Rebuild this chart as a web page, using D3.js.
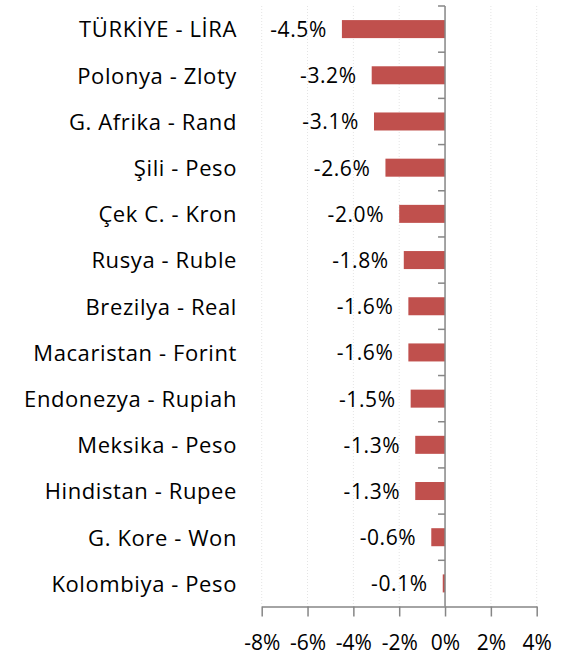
<!DOCTYPE html>
<html>
<head>
<meta charset="utf-8">
<script src="https://d3js.org/d3.v7.min.js" charset="utf-8"></script>
<style>
  body {margin:0;background:#fff;}
  text {font-family: "Open Sans", Lato, sans-serif; fill:#000; letter-spacing:0.6px;}
</style>
</head>
<body>
<div id="chart"></div>
<script>
const width = 567, height = 656;

const categories = ["TÜRKİYE - LİRA", "Polonya - Zloty", "G. Afrika - Rand", "Şili - Peso",
  "Çek C. - Kron", "Rusya - Ruble", "Brezilya - Real", "Macaristan - Forint",
  "Endonezya - Rupiah", "Meksika - Peso", "Hindistan - Rupee", "G. Kore - Won", "Kolombiya - Peso"];
const values = [-4.5, -3.2, -3.1, -2.6, -2.0, -1.8, -1.6, -1.6, -1.5, -1.3, -1.3, -0.6, -0.1];
const labels = ["-4.5%", "-3.2%", "-3.1%", "-2.6%", "-2.0%", "-1.8%", "-1.6%", "-1.6%", "-1.5%", "-1.3%", "-1.3%", "-0.6%", "-0.1%"];
const xTicks = [-8, -6, -4, -2, 0, 2, 4];

const x = d3.scaleLinear().domain([-8, 4]).range([261.7, 536.7]);
const y = d3.scaleBand().domain(categories).range([6, 606.5]).paddingInner(0.61).paddingOuter(0.305);
const bandStep = y.step();

const svg = d3.select("#chart").append("svg")
  .attr("width", width)
  .attr("height", height);

// faint dotted gridlines
svg.append("g").selectAll("line")
  .data(xTicks.filter(d => d !== 0))
  .join("line")
  .attr("x1", d => x(d)).attr("x2", d => x(d))
  .attr("y1", 6).attr("y2", 606.5)
  .style("stroke", "#e4e4e4")
  .style("stroke-width", 1)
  .style("stroke-dasharray", "1 2");

// bars
svg.append("g").selectAll("rect")
  .data(values)
  .join("rect")
  .attr("x", d => x(Math.min(0, d)))
  .attr("y", (d, i) => y(categories[i]))
  .attr("width", d => Math.abs(x(d) - x(0)))
  .attr("height", y.bandwidth())
  .style("fill", "#C0504D");

// value labels
svg.append("g").selectAll("text")
  .data(values)
  .join("text")
  .attr("x", d => x(d) - 15)
  .attr("y", (d, i) => y(categories[i]) + y.bandwidth() / 2)
  .attr("dy", "0.38em")
  .attr("text-anchor", "end")
  .style("font-size", "21px")
  .text((d, i) => labels[i]);

// category labels
svg.append("g").selectAll("text")
  .data(categories)
  .join("text")
  .attr("x", 237)
  .attr("y", d => y(d) + y.bandwidth() / 2)
  .attr("dy", "0.38em")
  .attr("text-anchor", "end")
  .style("font-size", "22px")
  .text(d => d);

// vertical zero axis with category ticks
const axisColor = "#868686";
svg.append("line")
  .attr("x1", x(0)).attr("x2", x(0))
  .attr("y1", 6).attr("y2", 606.5)
  .style("stroke", axisColor).style("stroke-width", 1.5);
svg.append("g").selectAll("line")
  .data(d3.range(categories.length))
  .join("line")
  .attr("x1", x(0) - 7).attr("x2", x(0))
  .attr("y1", i => 6 + i * bandStep).attr("y2", i => 6 + i * bandStep)
  .style("stroke", axisColor).style("stroke-width", 1.5);

// bottom x axis
const xAxis = d3.axisBottom(x)
  .tickValues(xTicks)
  .tickSize(10)
  .tickSizeOuter(0)
  .tickPadding(19)
  .tickFormat(d => d + "%");
const gx = svg.append("g")
  .attr("transform", "translate(0,606.5)")
  .call(xAxis);
gx.select(".domain").style("stroke", axisColor).style("stroke-width", 1.5);
gx.selectAll(".tick line").style("stroke", axisColor).style("stroke-width", 1.5);
gx.selectAll(".tick text")
  .style("font-family", "'Open Sans', Lato, sans-serif")
  .style("font-size", "21px")
  .style("letter-spacing", "0px")
  .style("fill", "#000");
</script>
</body>
</html>
